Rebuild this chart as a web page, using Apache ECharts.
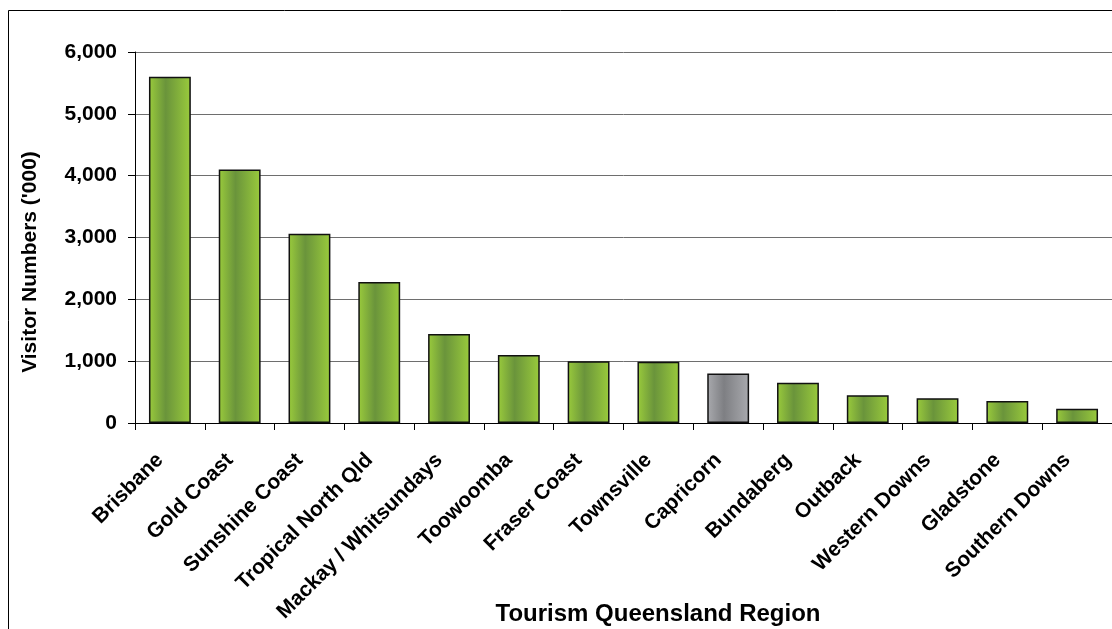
<!DOCTYPE html>
<html>
<head>
<meta charset="utf-8">
<script src="https://cdn.jsdelivr.net/npm/echarts@6/dist/echarts.min.js"></script>
<style>
  html, body { margin: 0; padding: 0; background: #fff; }
  #chart { width: 1112px; height: 629px; }
</style>
</head>
<body>
<div id="chart"></div>
<script>
var regions = ["Brisbane", "Gold Coast", "Sunshine Coast", "Tropical North Qld", "Mackay / Whitsundays",
  "Toowoomba", "Fraser Coast", "Townsville", "Capricorn", "Bundaberg", "Outback",
  "Western Downs", "Gladstone", "Southern Downs"];
var visitors = [5600, 4100, 3060, 2280, 1440, 1100, 1000, 990, 800, 650, 450, 400, 355, 230];
var highlighted = "Capricorn";

var font = "'Liberation Sans', Arial, sans-serif";

function grad(edge, mid) {
  return new echarts.graphic.LinearGradient(0, 0, 1, 0, [
    { offset: 0, color: edge },
    { offset: 0.4, color: mid },
    { offset: 1, color: edge }
  ]);
}

var barData = visitors.map(function (v, i) {
  var grey = regions[i] === highlighted;
  return {
    value: v,
    itemStyle: {
      color: grey ? grad("#a9aaae", "#7e7f83") : grad("#9acb3c", "#6a943b")
    }
  };
});

var myChart = echarts.init(document.getElementById("chart"));
var option = {
  animation: false,
  backgroundColor: "#fff",
  grid: { left: 135, right: 0, top: 52, bottom: 206 },
  xAxis: {
    type: "category",
    data: regions,
    axisLine: { lineStyle: { color: "#000", width: 1 } },
    axisTick: { show: true, length: 7, lineStyle: { color: "#000" } },
    axisLabel: {
      interval: 0,
      rotate: 45,
      margin: 24,
      padding: [0, 14, 0, 0],
      color: "#000",
      fontFamily: font,
      fontWeight: "bold",
      fontSize: 21
    }
  },
  yAxis: {
    type: "value",
    min: 0,
    max: 6000,
    interval: 1000,
    axisLine: { show: true, lineStyle: { color: "#000", width: 1 } },
    axisTick: { show: true, length: 7, lineStyle: { color: "#000" } },
    axisLabel: {
      margin: 18,
      color: "#000",
      fontFamily: font,
      fontWeight: "bold",
      fontSize: 21,
      formatter: function (v) { return v.toLocaleString("en-US"); }
    },
    splitLine: { lineStyle: { color: "#6e6e6e", width: 1 } }
  },
  series: [{
    type: "bar",
    data: barData,
    barWidth: "60%",
    itemStyle: { borderColor: "#111", borderWidth: 1.5 }
  }],
  graphic: [
    {
      type: "rect",
      shape: { x: 8.5, y: 10.5, width: 1200, height: 700 },
      style: { fill: null, stroke: "#000", lineWidth: 1 },
      silent: true
    },
    {
      type: "text",
      x: 30,
      y: 262,
      rotation: Math.PI / 2,
      style: {
        text: "Visitor Numbers ('000)", fill: "#000", font: "bold 21px " + font,
        align: "center", verticalAlign: "middle"
      }
    },
    {
      type: "text",
      x: 658,
      y: 614,
      style: {
        text: "Tourism Queensland Region", fill: "#000", font: "bold 24px " + font,
        align: "center", verticalAlign: "middle"
      }
    }
  ]
};
myChart.setOption(option);
</script>
</body>
</html>
